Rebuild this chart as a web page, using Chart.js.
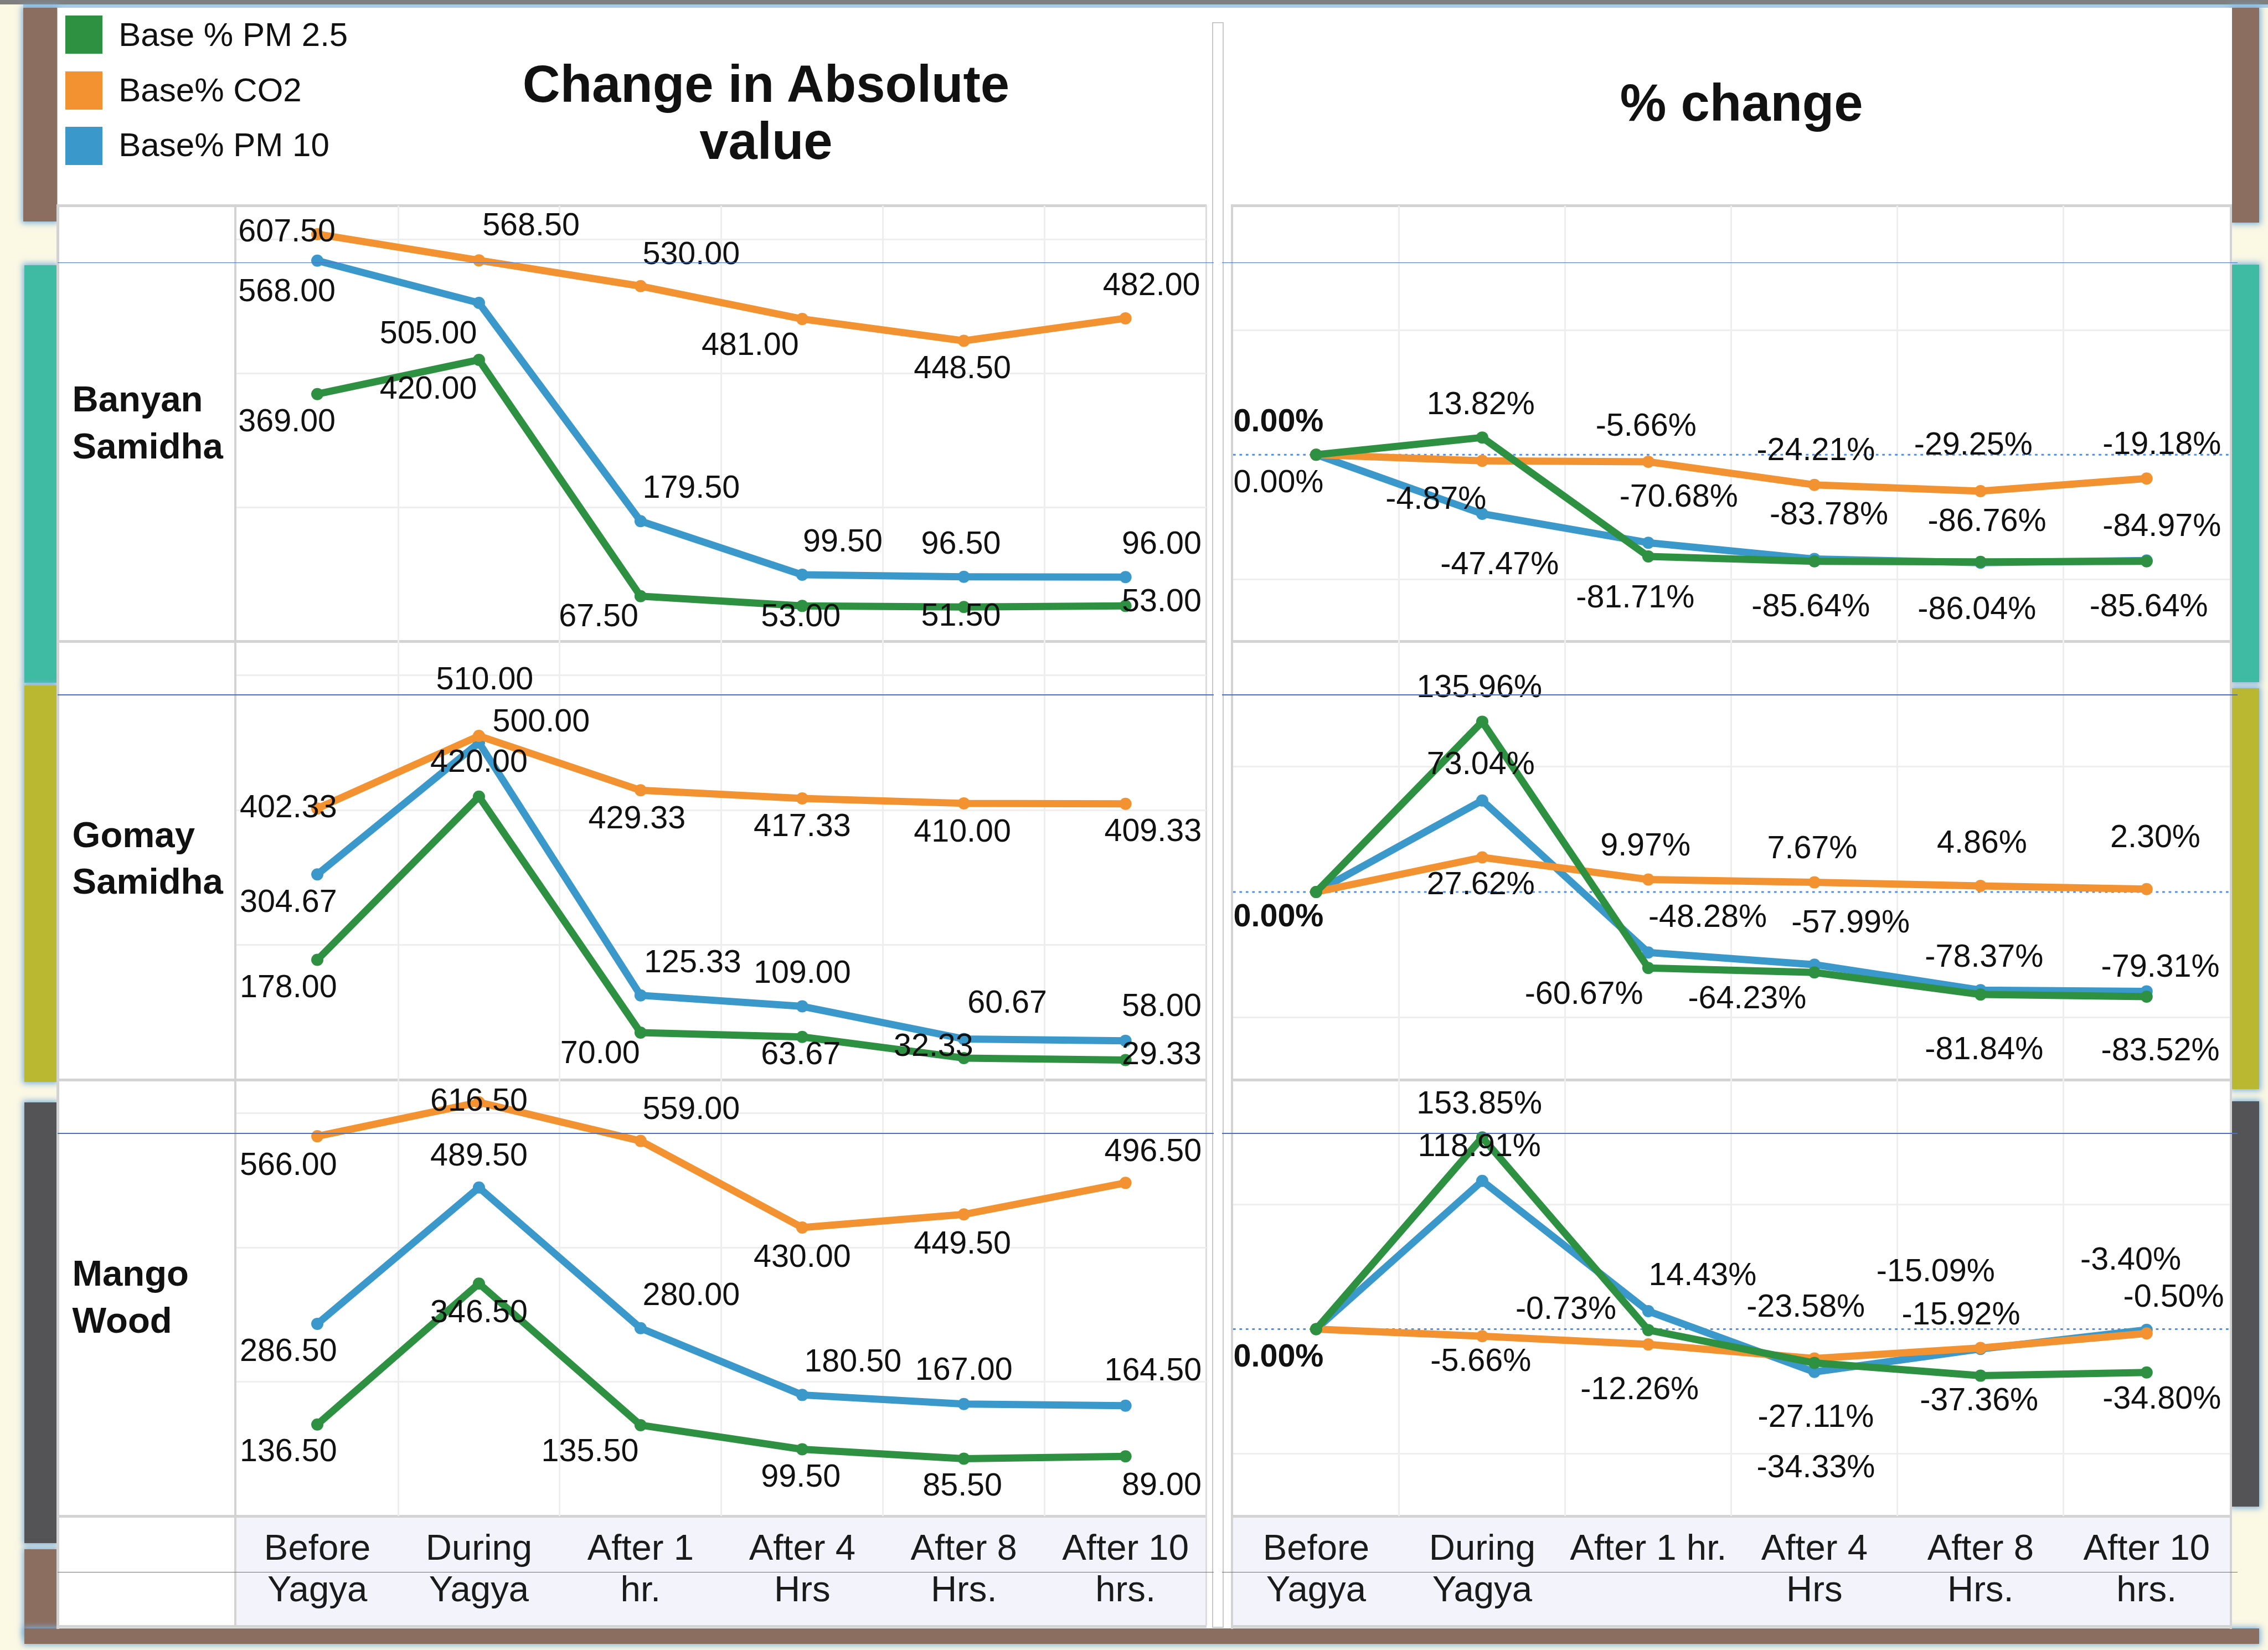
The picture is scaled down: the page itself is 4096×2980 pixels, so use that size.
<!DOCTYPE html>
<html>
<head>
<meta charset="utf-8">
<script src="https://cdn.jsdelivr.net/npm/chart.js@4.4.0/dist/chart.umd.min.js"></script>
<style>
html, body { margin: 0; padding: 0; }
body { width: 4096px; height: 2980px; overflow: hidden; background: #fbf8e4; position: relative;
       font-family: "Liberation Sans", Arial, sans-serif; }
.abs { position: absolute; box-sizing: border-box; }
.txt { position: absolute; white-space: nowrap; color: #111; }
canvas { position: absolute; }
</style>
</head>
<body>
<script>
// Skalierung: Layout-Werte sind in Referenz-Pixeln (1568 breit) angegeben
const S = 4096 / 1568;

// ---- Daten ----
const categories = [['Before', 'Yagya'], ['During', 'Yagya'], ['After 1', 'hr.'], ['After 4', 'Hrs'], ['After 8', 'Hrs.'], ['After 10', 'hrs.']];
const pctCategories = [['Before', 'Yagya'], ['During', 'Yagya'], ['After 1 hr.'], ['After 4', 'Hrs'], ['After 8', 'Hrs.'], ['After 10', 'hrs.']];
const seriesNames = ['Base % PM 2.5', 'Base% CO2', 'Base% PM 10'];
const rowNames = [['Banyan', 'Samidha'], ['Gomay', 'Samidha'], ['Mango', 'Wood']];

const banyanPM25 = [369.00, 420.00, 67.50, 53.00, 51.50, 53.00];
const banyanCO2  = [607.50, 568.50, 530.00, 481.00, 448.50, 482.00];
const banyanPM10 = [568.00, 505.00, 179.50, 99.50, 96.50, 96.00];
const gomayPM25  = [178.00, 420.00, 70.00, 63.67, 32.33, 29.33];
const gomayCO2   = [402.33, 510.00, 429.33, 417.33, 410.00, 409.33];
const gomayPM10  = [304.67, 500.00, 125.33, 109.00, 60.67, 58.00];
const mangoPM25  = [136.50, 346.50, 135.50, 99.50, 85.50, 89.00];
const mangoCO2   = [566.00, 616.50, 559.00, 430.00, 449.50, 496.50];
const mangoPM10  = [286.50, 489.50, 280.00, 180.50, 167.00, 164.50];

const banyanPM25Pct = [0, 13.82, -81.71, -85.64, -86.04, -85.64];
const banyanCO2Pct  = [0, -4.87, -5.66, -24.21, -29.25, -19.18];
const banyanPM10Pct = [0, -47.47, -70.68, -83.78, -86.76, -84.97];
const gomayPM25Pct  = [0, 135.96, -60.67, -64.23, -81.84, -83.52];
const gomayCO2Pct   = [0, 27.62, 9.97, 7.67, 4.86, 2.30];
const gomayPM10Pct  = [0, 73.04, -48.28, -57.99, -78.37, -79.31];
const mangoPM25Pct  = [0, 153.85, -0.73, -27.11, -37.36, -34.80];
const mangoCO2Pct   = [0, -5.66, -12.26, -23.58, -15.09, -3.40];
const mangoPM10Pct  = [0, 118.91, 14.43, -34.33, -15.92, -0.50];

const absRange = [0, 650];
const absGrid = [200, 400, 600];
const pctRange = [-150, 200];
const pctGrid = [-100, 100];

// ---- Label-Positionen (Versatz zum Punkt, Referenz-Pixel; 3. Wert = fett) ----
const banyanAbsLabelPos = [
    [[-21, 18], [-35, 19], [-29, 13], [-1, 6], [-2, 5], [25, -4]],
    [[-21, -3], [36, -25], [35, -23], [-36, 17], [-1, 18], [18, -24]],
    [[-21, 20], [-35, 20], [35, -24], [28, -24], [-2, -24], [25, -24]]
];
const gomayAbsLabelPos = [
    [[-20, 18], [0, -25], [-28, 13], [-1, 11], [-21, -9.5], [25, -5]],
    [[-20, -2], [4, -40], [-2.5, 18.6], [0, 18], [-1, 18.5], [19, 18]],
    [[-20, 18], [43, -15.6], [36, -24], [0, -24], [30, -26], [25, -25]]
];
const mangoAbsLabelPos = [
    [[-20, 17.6], [0, 19], [-35, 17], [-1, 18], [-1, 17.4], [25, 19]],
    [[-20, 19], [0, -2], [35, -23], [0, 19.5], [-1, 19], [19, -23]],
    [[-20, 18], [0, -23], [35, -24], [35, -24], [0, -24.5], [19, -25.5]]
];
const banyanPctLabelPos = [
    [[-26, -24, 1], [-1, -24], [-9, 27.5], [-2.5, 30], [-2.5, 31.6], [1.5, 30]],
    [null, [-32, 25.5], [-1.6, -25.7], [1, -25], [-5, -33], [10.5, -25]],
    [[-26, 18], [12, 34], [21, -33], [10, -32], [4.5, -30], [10.5, -25]]
];
const gomayPctLabelPos = [
    [[-26, 16, 1], [-2, -25], [-44.5, 17], [-46.5, 17], [2.5, 37], [9.5, 36]],
    [null, [-1, 17.4], [-2, -24.6], [-1.5, -24.5], [1, -31], [6, -37]],
    [null, [-1, -26], [41, -25.7], [25, -30], [2.5, -24], [9.5, -18]]
];
const mangoPctLabelPos = [
    [[-26, 18, 1], [-2, -24.4], [-57, -15.5], [1, 36.5], [-1, 16], [10.5, 17]],
    [null, [-1, 16], [-6, 30], [-6, -37], [-31, -54], [-11, -52]],
    [null, [-2, -25], [37.5, -26], [1, 65], [-13.5, -25], [18.7, -24]]
];

const colors = ['#2e9142', '#f39230', '#3a98ca'];
const FONT = '"Liberation Sans", Arial, sans-serif';
const page = document.body;

// ---- Hilfsfunktionen ----
function box(x, y, w, h, bg, extra) {
    const d = document.createElement('div');
    d.className = 'abs';
    Object.assign(d.style, {
        left: x * S + 'px', top: y * S + 'px', width: w * S + 'px', height: h * S + 'px', background: bg
    }, extra || {});
    page.appendChild(d);
    return d;
}

function text(str, x, base, size, opts = {}) {
    const d = document.createElement('div');
    const fs = size * S;
    d.className = 'txt';
    d.textContent = str;
    d.style.fontSize = fs + 'px';
    d.style.lineHeight = fs + 'px';
    d.style.top = (base * S - 0.8465 * fs) + 'px';
    if (opts.bold) d.style.fontWeight = 'bold';
    if (opts.center) {
        d.style.left = (x * S - 1000) + 'px';
        d.style.width = '2000px';
        d.style.textAlign = 'center';
    } else {
        d.style.left = x * S + 'px';
    }
    page.appendChild(d);
}

// ---- Rahmen / Hintergrund ----
const glow = { boxShadow: `0 0 ${4 * S}px ${1 * S}px #7fb0da` };
box(0, 0, 1568, 3, '#7f7f7f');
box(16, 3, 1552, 2.5, '#a7cbe2');
box(16, 5.5, 23.5, 147.5, '#8b6e60', glow);
box(17, 183.5, 22.5, 288.5, '#3ebba2', glow);
box(17, 474, 22.5, 274, '#bab731', glow);
box(17, 762, 22.5, 305, '#545355', glow);
box(17, 1071, 22.5, 60, '#8b6e60', glow);
box(17, 1126, 1545, 10.5, '#8b6e60', glow);
box(1543, 5.5, 19, 148.5, '#8b6e60', glow);
box(1543, 183, 19, 288.6, '#3ebba2', glow);
box(1543, 476, 19, 277, '#bab731', glow);
box(1543, 761.6, 19, 280, '#545355', glow);

// weisses Blatt
box(40, 5.5, 1503, 1120.5, '#ffffff');

// Beschriftungsbereich der x-Achse
box(163.5, 1049.2, 670.5, 74.3, '#f3f3fb');
box(852.5, 1049.2, 689, 74.3, '#f3f3fb');

// graue Tabellenlinien
const gray = '#d3d3d3';
[141.2, 442.6, 745.7, 1047.3, 1123.5].forEach(y => {
    box(40, y, 794, 2, gray);
    box(851, y, 692, 2, gray);
});
box(39, 141.2, 2, 985, gray);
box(162, 142, 1.6, 982, gray);
box(833.5, 142, 1.2, 982, '#dcdcdc');
box(851, 141.2, 1.6, 985, gray);
box(1541.6, 141.2, 1.6, 985, gray);
box(838, 15.5, 8, 1110, 'transparent', { border: `${0.8 * S}px solid #c8c8c8` });

// ---- Texte ----
seriesNames.forEach((n, i) => {
    box(45, 10.8 + i * 38.4, 26, 26.5, colors[i]);
    text(n, 82, 32 + i * 38.2, 23);
});
text('Change in Absolute', 529.6, 70.6, 36, { bold: true, center: true });
text('value', 529.6, 110, 36, { bold: true, center: true });
text('% change', 1204, 83.6, 36, { bold: true, center: true });

const rowBase = [[284.7, 317], [586, 618], [889, 921.6]];
rowNames.forEach((r, i) => {
    text(r[0], 50, rowBase[i][0], 25, { bold: true });
    text(r[1], 50, rowBase[i][1], 25, { bold: true });
});

// ---- Plugin fuer Datenlabels, Nulllinie und x-Beschriftung ----
const labelPlugin = {
    id: 'sheetLabels',
    beforeDatasetsDraw(chart, args, opts) {
        if (!opts.zeroLine) return;
        const { ctx, chartArea } = chart;
        const y = chart.scales.y.getPixelForValue(0);
        ctx.save();
        ctx.strokeStyle = '#4d8fe3';
        ctx.lineWidth = 1.2 * S;
        ctx.setLineDash([1.8 * S, 2.6 * S]);
        ctx.beginPath();
        ctx.moveTo(chartArea.left, y);
        ctx.lineTo(chartArea.right, y);
        ctx.stroke();
        ctx.restore();
    },
    afterDatasetsDraw(chart, args, opts) {
        const { ctx } = chart;
        const fs = 22 * S;
        ctx.save();
        ctx.fillStyle = '#111';
        ctx.textAlign = 'center';
        ctx.textBaseline = 'alphabetic';
        chart.data.datasets.forEach((ds, i) => {
            const meta = chart.getDatasetMeta(i);
            ds.data.forEach((v, j) => {
                const p = opts.pos[i][j];
                if (!p) return;
                const pt = meta.data[j];
                ctx.font = (p[2] ? 'bold ' : '') + fs + 'px ' + FONT;
                ctx.fillText(opts.format(v), pt.x + p[0] * S, pt.y + p[1] * S + 0.358 * fs);
            });
        });
        if (opts.xLabels) {
            const xs = chart.scales.x;
            ctx.fillStyle = '#1a1a1a';
            ctx.font = 25 * S + 'px ' + FONT;
            opts.xLabels.forEach((lines, i) => {
                const x = xs.getPixelForValue(i);
                lines.forEach((t, k) => {
                    ctx.fillText(t, x, chart.chartArea.bottom + (k ? 58.8 : 30.3) * S);
                });
            });
        }
        ctx.restore();
    }
};

function makeChart(area, series, range, gridTicks, pos, format, opts) {
    const m = 45, mb = opts.xLabels ? 80 : 45;
    const L = area.x * S, T = area.y * S, W = area.w * S, H = area.h * S;
    const cl = Math.round(L - m * S), ct = Math.round(T - m * S);
    const cw = Math.round(L + W + m * S) - cl, ch = Math.round(T + H + mb * S) - ct;
    const cv = document.createElement('canvas');
    cv.width = cw; cv.height = ch;
    cv.style.left = cl + 'px'; cv.style.top = ct + 'px';
    cv.style.width = cw + 'px'; cv.style.height = ch + 'px';
    page.appendChild(cv);

    return new Chart(cv.getContext('2d'), {
        type: 'line',
        data: {
            labels: categories.map(c => c.join(' ')),
            datasets: series.map((s, i) => ({
                label: seriesNames[i],
                data: s,
                borderColor: colors[i],
                backgroundColor: colors[i],
                borderWidth: 13,
                borderJoinStyle: 'round',
                borderCapStyle: 'round',
                pointRadius: 11,
                pointHoverRadius: 11,
                pointBorderWidth: 0,
                tension: 0,
                fill: false
            }))
        },
        options: {
            responsive: false,
            animation: false,
            devicePixelRatio: 1,
            events: [],
            layout: {
                autoPadding: false,
                padding: { left: L - cl, top: T - ct, right: cw - (L - cl) - W, bottom: ch - (T - ct) - H }
            },
            plugins: {
                legend: { display: false },
                tooltip: { enabled: false },
                sheetLabels: { pos: pos, format: format, zeroLine: opts.zeroLine, xLabels: opts.xLabels }
            },
            scales: {
                x: {
                    offset: true,
                    ticks: { display: false },
                    border: { display: false },
                    grid: {
                        offset: true,
                        drawTicks: false,
                        lineWidth: 3,
                        color: ctx => (ctx.index === undefined || ctx.index === 0) ? 'rgba(0,0,0,0)' : '#eeeeee'
                    }
                },
                y: {
                    min: range[0],
                    max: range[1],
                    afterBuildTicks: axis => { axis.ticks = gridTicks.map(v => ({ value: v })); },
                    ticks: { display: false },
                    border: { display: false },
                    grid: { drawTicks: false, lineWidth: 3, color: '#eeeeee' }
                }
            }
        },
        plugins: [labelPlugin]
    });
}

// ---- Diagramme ----
const rowAreas = [[142.2, 443.5], [443.5, 746.6], [746.6, 1048.2]];
const absSeries = [[banyanPM25, banyanCO2, banyanPM10], [gomayPM25, gomayCO2, gomayPM10], [mangoPM25, mangoCO2, mangoPM10]];
const pctSeries = [[banyanPM25Pct, banyanCO2Pct, banyanPM10Pct], [gomayPM25Pct, gomayCO2Pct, gomayPM10Pct], [mangoPM25Pct, mangoCO2Pct, mangoPM10Pct]];
const absPos = [banyanAbsLabelPos, gomayAbsLabelPos, mangoAbsLabelPos];
const pctPos = [banyanPctLabelPos, gomayPctLabelPos, mangoPctLabelPos];

rowAreas.forEach((r, i) => {
    const last = i === rowAreas.length - 1;
    makeChart({ x: 163.5, y: r[0], w: 670.5, h: r[1] - r[0] }, absSeries[i], absRange, absGrid, absPos[i],
        v => v.toFixed(2), { xLabels: last ? categories : null });
    makeChart({ x: 852.5, y: r[0], w: 689, h: r[1] - r[0] }, pctSeries[i], pctRange, pctGrid, pctPos[i],
        v => v.toFixed(2) + '%', { zeroLine: true, xLabels: last ? pctCategories : null });
});

// blaue Zeilenlinien
[181.3, 480.2, 783.2, 1086.7].forEach(y => {
    box(40, y, 799, 0.65, '#4472c4');
    box(845, y, 702, 0.65, '#4472c4');
});
</script>
</body>
</html>
